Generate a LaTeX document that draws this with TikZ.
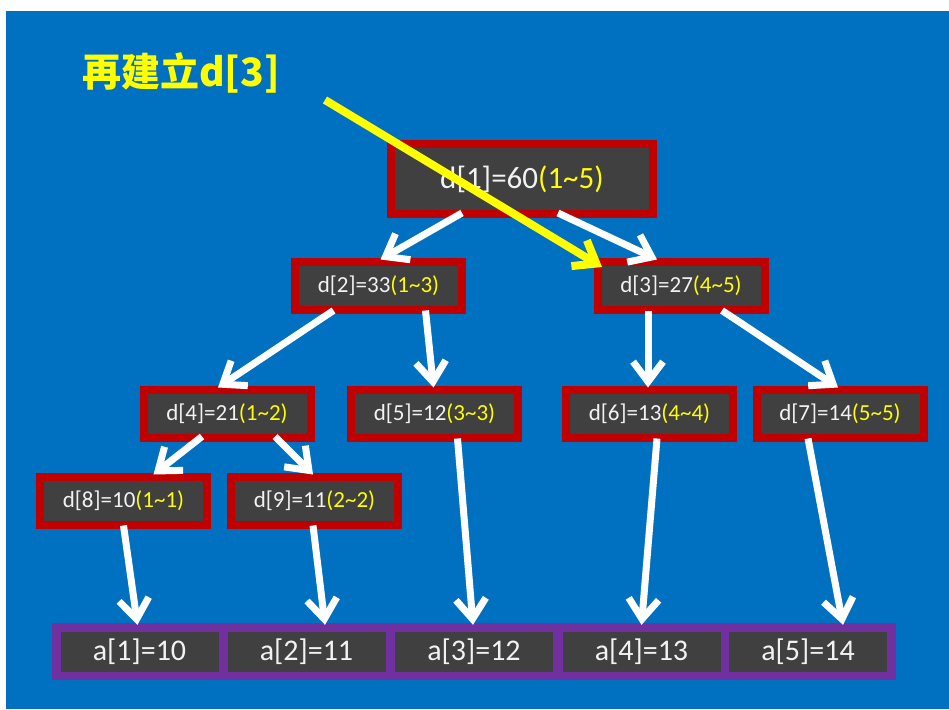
\documentclass[tikz,border=0pt]{standalone}
\usepackage{fontspec}
\setmainfont{Carlito}
\newfontfamily\cjk{Noto Sans CJK TC}
\usetikzlibrary{arrows.meta,calc}
\definecolor{bgblue}{HTML}{0070C0}
\definecolor{boxred}{HTML}{C00000}
\definecolor{dark}{HTML}{404040}
\definecolor{purp}{HTML}{7030A0}
\definecolor{ylw}{HTML}{FFFF00}
\definecolor{txt}{HTML}{F2F2F2}
\newcommand{\rng}[2]{\textcolor{ylw}{(#1\textasciitilde#2)}}
\begin{document}
\begin{tikzpicture}[x=1pt,y=-1pt,
  dbox/.style={draw=boxred, fill=dark, line width=8pt, inner sep=0pt,
    minimum width=167pt, minimum height=48pt, text=txt,
    font=\fontsize{23}{23}\selectfont},
  bigbox/.style={dbox, minimum width=262pt, minimum height=70pt,
    font=\fontsize{31}{31}\selectfont},
  cell/.style={fill=dark, inner sep=0pt, minimum width=158pt,
    minimum height=40pt, text=txt, font=\fontsize{30}{30}\selectfont},
  warr/.style={draw=white, line width=7pt,
    -{Straight Barb[length=20pt,width=30pt]}},
  yarr/.style={draw=ylw, line width=8pt,
    -{Straight Barb[length=20pt,width=30pt]}}]
\useasboundingbox (0,0) rectangle (949,709);
\fill[white] (0,0) rectangle (949,709);
\fill[bgblue] (6,11) rectangle (949,709);

\node[anchor=base west, text=ylw, inner sep=0pt,
  font=\cjk\bfseries\fontsize{39}{39}\selectfont] (title) at (82,86) {再建立d[3]};

\node[bigbox] (d1) at (522,179) {d[1]=60\rng{1}{5}};
\node[dbox] (d2) at (378.5,285.5) {d[2]=33\rng{1}{3}};
\node[dbox] (d3) at (681,285.5) {d[3]=27\rng{4}{5}};
\node[dbox] (d4) at (227,413.5) {d[4]=21\rng{1}{2}};
\node[dbox] (d5) at (434.5,413.5) {d[5]=12\rng{3}{3}};
\node[dbox] (d6) at (649.5,413.5) {d[6]=13\rng{4}{4}};
\node[dbox] (d7) at (840,413.5) {d[7]=14\rng{5}{5}};
\node[dbox] (d8) at (123.5,500.5) {d[8]=10\rng{1}{1}};
\node[dbox] (d9) at (314.5,500.5) {d[9]=11\rng{2}{2}};

\node[fill=purp, inner sep=0pt, minimum width=844pt, minimum height=57pt] (arr) at (474,651.5) {};
\node[cell] (a1) at (139.5,652) {a[1]=10};
\node[cell] (a2) at (306.5,652) {a[2]=11};
\node[cell] (a3) at (474,652) {a[3]=12};
\node[cell] (a4) at (641.5,652) {a[4]=13};
\node[cell] (a5) at (808,652) {a[5]=14};

\draw[warr] ($(d1.south)+(-60,-5)$) -- ($(d2.north)+(2,2)$);
\draw[warr] ($(d1.south)+(36,-5)$) -- ($(d3.north)+(-24,2)$);
\draw[warr] ($(d2.south)+(-45,-3)$) -- ($(d4.north)+(-9,2)$);
\draw[warr] ($(d2.south)+(47,-3)$) -- ($(d5.north)+(-1,2)$);
\draw[warr] ($(d3.south)+(-33,-3)$) -- ($(d6.north)+(-1.5,2)$);
\draw[warr] ($(d3.south)+(41,-3)$) -- ($(d7.north)+(-2,2)$);
\draw[warr] ($(d4.south)+(-25,-5)$) -- ($(d8.north)+(30,2)$);
\draw[warr] ($(d4.south)+(48,-5)$) -- ($(d9.north)+(-1.5,2)$);
\draw[warr] ($(d8.south)+(0,-3)$) -- ($(a1.north |- arr.north)+(-2,2)$);
\draw[warr] ($(d9.south)+(-1.5,-3)$) -- ($(a2.north |- arr.north)+(18.5,2)$);
\draw[warr] ($(d5.south)+(23,-3)$) -- ($(a3.north |- arr.north)+(-1,2)$);
\draw[warr] ($(d6.south)+(7.5,-3)$) -- ($(a4.north |- arr.north)+(0,2)$);
\draw[warr] ($(d7.south)+(-32,-3)$) -- ($(a5.north |- arr.north)+(35,2)$);

\coordinate (ys) at (325,100);
\coordinate (ye) at (602,267);
\draw[yarr] (ys) -- (ye);
\end{tikzpicture}
\end{document}
